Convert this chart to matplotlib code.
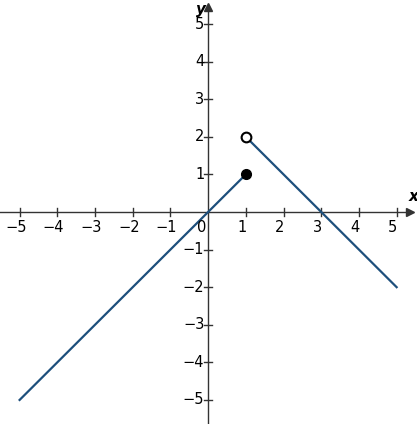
import matplotlib.pyplot as plt
import numpy as np

left_x = [-5, 1]
left_y = [-5, 1]
right_x = [1, 5]
right_y = [2, -2]
ticks = [-5, -4, -3, -2, -1, 1, 2, 3, 4, 5]
blue = '#1d4f7c'

fig = plt.figure(figsize=(4.17, 4.24), dpi=100)
ax = fig.add_axes([0, 0, 1, 1])
ax.set_xlim(-5.52, 5.54)
ax.set_ylim(-5.64, 5.64)
ax.axis('off')

# axes
ax.plot([-5.52, 5.3], [0, 0], color='#333333', lw=1)
ax.plot([0, 0], [-5.64, 5.35], color='#333333', lw=1)
ax.plot(5.35, 0, marker='>', color='#333333', ms=6)
ax.plot(0, 5.45, marker='^', color='#333333', ms=6)
ax.text(5.45, 0.2, 'x', style='italic', weight='bold', fontsize=11, ha='center', va='bottom')
ax.text(-0.2, 5.4, 'y', style='italic', weight='bold', fontsize=11, ha='center', va='center')

for t in ticks:
    ax.plot([t, t], [-0.1, 0.1], color='#333333', lw=1)
    ax.plot([-0.1, 0.1], [t, t], color='#333333', lw=1)
    lab = str(t).replace('-', '\u2212')
    ax.text(t - 0.1, -0.2, lab, ha='center', va='top', fontsize=10.5)
    ax.text(-0.1, t, lab, ha='right', va='center', fontsize=10.5)
ax.text(-0.18, -0.2, '0', ha='center', va='top', fontsize=10.5)

ax.plot(left_x, left_y, color=blue, lw=1.6)
ax.plot(right_x, right_y, color=blue, lw=1.6)
ax.plot(left_x[1], left_y[1], 'o', color='black', ms=7, zorder=5)
ax.plot(right_x[0], right_y[0], 'o', mfc='white', mec='black', mew=1.5, ms=7, zorder=5)

fig.savefig('out.png', dpi=100)
